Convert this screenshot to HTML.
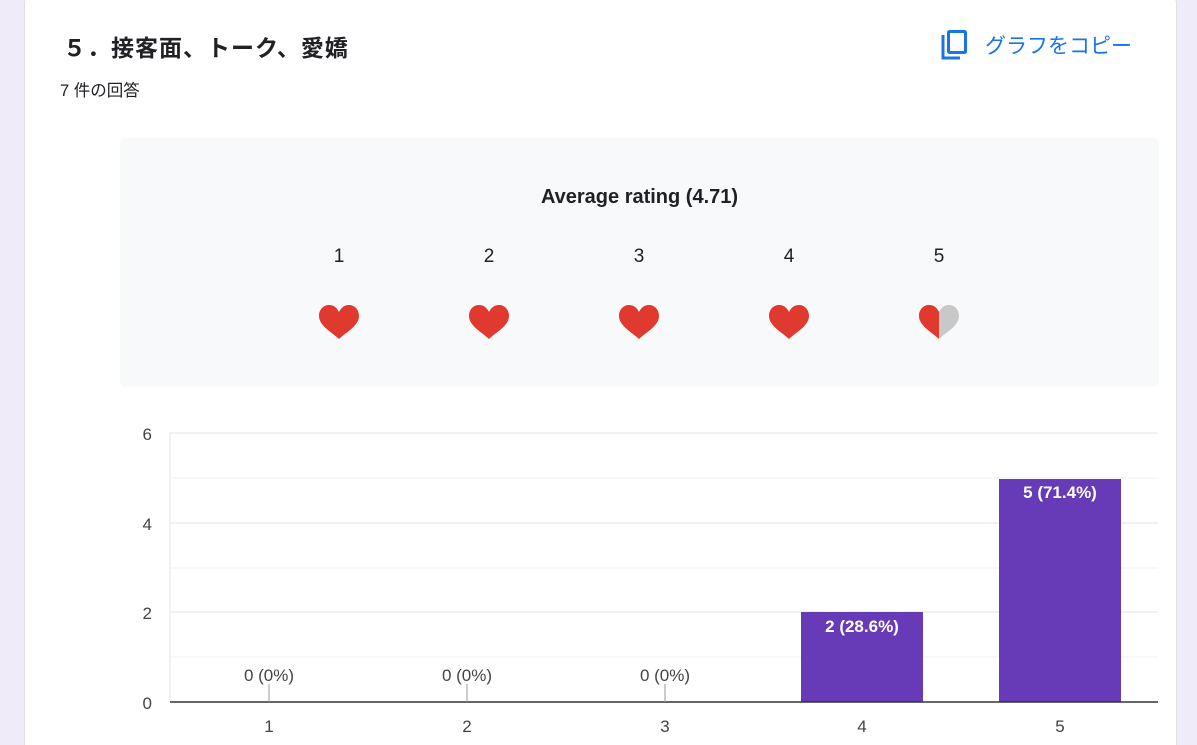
<!DOCTYPE html>
<html><head><meta charset="utf-8"><style>
html,body{margin:0;width:1197px;height:745px;overflow:hidden}
body{background:#f0ebf8;font-family:"Liberation Sans","Noto Sans CJK JP",sans-serif;position:relative}
.card{position:absolute;left:24px;top:-10px;width:1153px;height:755px;background:#fff;border-radius:14px 14px 0 0;border:1px solid #e0e0e0;border-bottom:none;box-sizing:border-box}
.t{position:absolute;font-family:"Liberation Sans","Noto Sans CJK JP",sans-serif;white-space:nowrap}
</style></head><body>
<div class="card"></div>
<div class="t" style="left:63px;top:29px;font-size:23px;letter-spacing:1px;font-weight:bold;color:#202124">５．接客面、トーク、愛嬌</div>
<div class="t" style="left:60px;top:77px;font-size:16.5px;color:#202124">7 件の回答</div>
<svg style="position:absolute;left:940px;top:30px" width="30" height="32" viewBox="0 0 30 32"><path d="M3 5 V28 H20" fill="none" stroke="#1a73e8" stroke-width="3"/><rect x="8.5" y="1.5" width="17" height="21" fill="none" stroke="#1a73e8" stroke-width="3" rx="1"/></svg>
<div class="t" style="left:985px;top:30px;font-size:21px;color:#1a73e8">グラフをコピー</div>
<div style="position:absolute;left:120px;top:138px;width:1039px;height:249px;background:#f8f9fa;border-radius:6px"></div>
<div class="t" style="left:120px;width:1039px;text-align:center;top:186px;font-size:20px;font-weight:bold;color:#202124">Average rating (4.71)</div>
<svg style="position:absolute;left:0;top:0" width="1197" height="745">
<defs>
<path id="h" d="M0 17 C-6 11 -20 4 -20 -6 C-20 -13 -15 -17 -10 -17 C-5 -17 -2 -14 0 -10 C2 -14 5 -17 10 -17 C15 -17 20 -13 20 -6 C20 4 6 11 0 17 Z"/>
<clipPath id="lh"><rect x="-21" y="-20" width="21" height="40"/></clipPath>
</defs>
<g font-size="19" fill="#202124" text-anchor="middle" font-family="Liberation Sans, sans-serif">
<text x="339" y="262">1</text><text x="489" y="262">2</text><text x="639" y="262">3</text><text x="789" y="262">4</text><text x="939" y="262">5</text>
</g>
<g fill="#e03a30">
<use href="#h" transform="translate(339,322)"/><use href="#h" transform="translate(489,322)"/><use href="#h" transform="translate(639,322)"/><use href="#h" transform="translate(789,322)"/>
</g>
<g transform="translate(939,322)"><use href="#h" fill="#c8c8c8"/><use href="#h" fill="#e03a30" clip-path="url(#lh)"/></g>
<g stroke="#f3f3f3"><line x1="170" x2="1158" y1="657" y2="657"/><line x1="170" x2="1158" y1="568" y2="568"/><line x1="170" x2="1158" y1="478" y2="478"/></g>
<g stroke="#e6e6e6"><line x1="170" x2="1158" y1="612" y2="612"/><line x1="170" x2="1158" y1="523" y2="523"/><line x1="170" x2="1158" y1="433" y2="433"/><line x1="170" x2="170" y1="433" y2="702"/></g>
<rect x="801" y="612" width="122" height="90" fill="#673ab7"/>
<rect x="999" y="479" width="122" height="223" fill="#673ab7"/>
<line x1="170" x2="1158" y1="702" y2="702" stroke="#333" stroke-width="1.5"/>
<g stroke="#999"><line x1="269" x2="269" y1="684" y2="702"/><line x1="467" x2="467" y1="684" y2="702"/><line x1="665" x2="665" y1="684" y2="702"/></g>
<g font-size="17" fill="#444" font-family="Liberation Sans, sans-serif">
<g text-anchor="end"><text x="152" y="440">6</text><text x="152" y="530">4</text><text x="152" y="619">2</text><text x="152" y="709">0</text></g>
<g text-anchor="middle"><text x="269" y="732">1</text><text x="467" y="732">2</text><text x="665" y="732">3</text><text x="862" y="732">4</text><text x="1060" y="732">5</text>
<text x="269" y="681">0 (0%)</text><text x="467" y="681">0 (0%)</text><text x="665" y="681">0 (0%)</text>
<text x="862" y="632" fill="#fff" font-weight="bold">2 (28.6%)</text><text x="1060" y="498" fill="#fff" font-weight="bold">5 (71.4%)</text></g>
</g>
</svg>
</body></html>
